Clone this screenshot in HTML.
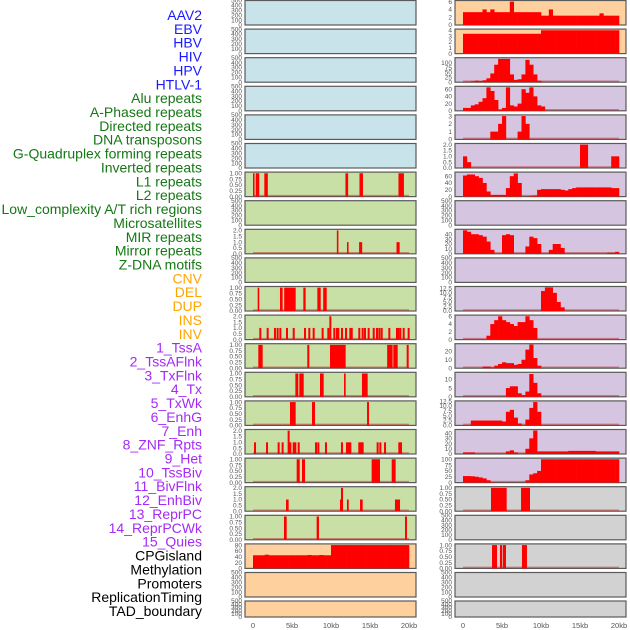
<!DOCTYPE html>
<html><head><meta charset="utf-8">
<style>
html,body{margin:0;padding:0;background:#fff;width:630px;height:630px;overflow:hidden}
svg{display:block}
text{font-family:"Liberation Sans",sans-serif}
</style></head>
<body>
<svg id="chart" width="630" height="630"></svg>
<script>
// ---- labels ----
const trackLabels=["AAV2","EBV","HBV","HIV","HPV","HTLV-1","Alu repeats","A-Phased repeats","Directed repeats","DNA transposons","G-Quadruplex forming repeats","Inverted repeats","L1 repeats","L2 repeats","Low_complexity A/T rich regions","Microsatellites","MIR repeats","Mirror repeats","Z-DNA motifs","CNV","DEL","DUP","INS","INV","1_TssA","2_TssAFlnk","3_TxFlnk","4_Tx","5_TxWk","6_EnhG","7_Enh","8_ZNF_Rpts","9_Het","10_TssBiv","11_BivFlnk","12_EnhBiv","13_ReprPC","14_ReprPCWk","15_Quies","CPGisland","Methylation","Promoters","ReplicationTiming","TAD_boundary"];
const labelGroups=[0,0,0,0,0,0,1,1,1,1,1,1,1,1,1,1,1,1,1,2,2,2,2,2,3,3,3,3,3,3,3,3,3,3,3,3,3,3,3,4,4,4,4,4];
const xTickLabels=["0","5kb","10kb","15kb","20kb"];
const xTickKb=[0,5,10,15,20];
// ---- left column data (intervals: [startKb,endKb,value]) ----
const leftL1=[[0,0.2,1],[0.35,0.8,1],[1.45,1.9,1],[11.85,12.2,1],[13.65,14.1,1],[18.65,19.35,1]];
const leftMIR=[[10.75,10.95,2],[12.05,12.25,1],[13.6,14.0,1],[18.4,18.8,1]];
const leftDEL=[[0.6,0.8,1],[3.46,3.8,1],[4.0,5.47,1],[6.45,6.75,1],[8.25,8.68,1],[9.0,9.45,1]];
const insPos=[0.81,1.75,2.69,3.03,3.38,4.23,5.09,6.54,7.09,7.65,8.8,9.53,9.79,10.3,10.64,10.81,11.28,11.8,12.35,12.53,13.5,13.93,14.23,14.7,15.35,15.77,16.07,16.37,17.35,18.33,18.5,18.76,19.19,19.83];
const insVal=[1,1,1,1,1,1,1,1,1,1,1,1,2,1,1,1,1,1,1,1,1,1,1,1,1,1,1,1,1,1,1,1,1,1];
const leftTssA=[[0.68,1.24,1],[6.96,7.22,1],[9.87,11.88,1],[17.2,17.9,1],[17.99,18.55,1],[19.7,19.96,1]];
const leftTxFlnk=[[5.43,5.81,1],[5.94,6.5,1],[8.59,9.06,1],[11.67,11.88,1],[13.97,14.7,1]];
const leftTxWk=[[4.74,5.47,1],[7.56,7.95,1],[14.62,14.87,1]];
const enhPos=[0.13,1.67,3.16,3.67,4.44,4.66,5.09,5.3,5.73,7.95,8.25,9.23,11.28,11.92,12.14,12.35,13.5,13.72,13.93,15.85,16.2,16.8,18.63,18.85];
const enhVal=[1,1,1,1,2,1,1,1,1,1,1,1,1,1,1,1,1,1,1,1,1,1,1,1];
const leftHet=[[5.6,5.99,1],[6.28,6.67,1],[15.21,16.28,1],[17.78,18.29,1]];
const leftBiv=[[4.23,4.57,1],[11.15,11.5,1],[11.28,11.54,2],[12.05,12.27,1],[13.72,14.06,1],[18.2,18.85,1]];
const leftRepr=[[3.97,4.32,1],[8.16,8.46,1],[19.49,19.74,1]];
const leftCpg=[45,45,45,47,45,45,45,45,45,45,45,45,45,45,46,45,45,46,45,45,80,80,80,80,80,80,80,80,80,80,80,80,80,80,80,80,80,80,80,80];
// ---- right column data (0.5kb bins from 0 to 20kb) ----
const rAAV2=[3.3,3.3,3.3,3.3,3.3,4,3.3,4,3.3,3.3,3.3,3.3,6,3.3,3.3,3.3,3.3,3.3,3.3,3.3,2.4,2.4,4,2.4,2.4,2.4,2.4,2.4,2.4,2.4,2.4,2.4,2.4,2.4,2.4,3,2.4,2.4,2.4,2.4];
const rEBV=[3.4,3.4,3.4,3.4,3.4,3.4,3.4,3.4,3.4,3.4,3.4,3.4,3.4,3.4,3.4,3.4,3.4,3.4,3.4,3.4,4,4,4,4,4,4,4,4,4,4,4,4,4,4,4,4,4,4,4,4];
const rHIV=[2,2,5,8,6,10,20,45,90,120,120,120,40,12,15,40,115,90,40,8,2,0,0,0,0,0,0,0,0,0,0,0,0,0,0,0,0,0,0,0];
const rAlu=[8,8,15,18,25,35,65,55,30,3,8,65,15,12,20,60,50,65,40,15,12,0,0,0,0,0,0,0,0,0,0,0,0,0,0,0,0,0,0,0];
const rDirected=[0,0,0,0,0,0,0,1,1,2,3,0,0,0,1,3,2,0,0,0,0,0,0,0,0,0,0,0,0,0,0,0,0,0,0,0,0,0,0,0];
const rGquad=[1,0.5,0,0,0,0,0,0,0,0,0,0,0,0,0,0,0,0,0,0,0,0,0,0,0,0,0,0,0,0,2,2,0,0,0,0,0,0,1,1];
const rL1=[62,65,65,60,55,40,15,5,5,5,5,25,60,68,40,0,0,2,3,20,22,22,22,22,22,20,18,22,25,27,27,27,27,27,27,27,27,27,25,25];
const rMIR=[48,45,40,40,38,35,25,8,0,0,38,40,38,0,0,0,15,35,32,20,0,0,8,20,20,12,0,0,0,0,0,0,0,0,0,0,0,2,2,4];
const rDEL=[0,0,0,0,0,0,0,0,0,0,0,0,0,0,0,0,0,0,0,0,11,13,13,10,5,2,0,0,0,0,0,0,0,0,0,0,0,0,0,0];
const rINS=[0,0,0,0,0,0,1,4,5,6,5,4.5,4,3.5,4.5,4.5,6,5,3,0,0,0,0,0,0,0,0,0,0,0,0,0,0,0,0,0,0,0,0,0];
const rTssA=[0,0,0,0,0,2,2,1,3,5,7,6,6,4,5,10,22,28,12,3,0,0,0,0,0,0,0,0,0,0,0,0,0,0,0,0,0,0,0,0];
const rTxFlnk=[0,0,0,0,0,0,0,0,0,0,0,5,6,6,2,1,3,13,8,2,0,0,0,0,0,0,0,0,0,0,0,0,0,0,0,0,0,0,0,0];
const rTxWk=[0,0,2.5,2.5,2.5,2.5,2.5,2.5,2.5,2.5,2,7,8,4,1,0,3,9,12,7,0,0,0,0,0,0,0,0,0,0,0,0,0,0,0,0,0,0,0,0];
const rEnh=[3,3,3,1,1,1,1,1,1,1,1,5,7,3,0,1,10,30,45,5,5,5,5,5,5,5,5,6,6,6,6,6,6,6,5,5,5,5,5,5];
const rHet=[28,28,27,25,22,18,10,2,0,0,0,0,0,0,0,0,10,35,40,50,100,100,100,100,100,100,100,100,100,100,100,100,100,100,100,100,100,100,100,100];
const rBiv=[[3.59,5.6,1],[7.44,8.59,1]];
const rCpg=[[3.72,4.36,1],[4.74,5.0,1],[5.09,5.51,1],[7.56,8.2,1]];
// ---- tick label arrays ----
const tEmpty=[0,100,200,300,400,500];
const tUnit=["0.00","0.25","0.50","0.75","1.00"];
const tTwo=["0.0","0.5","1.0","1.5","2.0"];

const svg=document.getElementById('chart');
const NS='http://www.w3.org/2000/svg';
const KB=7.8;
function xL(kb){return 253+kb*KB;}
function xR(kb){return 463+kb*KB;}
function mk(tag,attrs,parent){const e=document.createElementNS(NS,tag);for(const k in attrs)e.setAttribute(k,attrs[k]);(parent||svg).appendChild(e);return e;}

const colors={0:'#1a1aff',1:'#147814',2:'#ffa500',3:'#a52af5',4:'#000000'};
trackLabels.forEach((t,i)=>{
  const el=mk('text',{x:202,y:15+i*13.86+5,'text-anchor':'end','font-size':'14',fill:colors[labelGroups[i]]});
  el.textContent=t;
  
  
});

const BG={blue:'#c8e3ea',green:'#c8e0a5',peach:'#fdd09e',lav:'#d6c5e0',gray:'#d2d2d2'};
function rowGeom(i){ if(i===21) return {top:601,h:16}; return {top:i*28.6+0.5,h:24.5}; }

function drawPanel(side,i,bg,spec){
  const g=rowGeom(i);
  const px=side==='L'?245:455, pw=171;
  const xs=side==='L'?xL:xR;
  const grp=mk('g',{});
  
  
  mk('rect',{x:px,y:g.top,width:pw,height:g.h,fill:bg,stroke:'#5a5a5a','stroke-width':1.2},grp);
  const ymax=spec.ymax, bottom=g.top+g.h;
  const ys=v=>bottom-(v/ymax)*g.h;
  // ticks
  const ticks=spec.ticks, labs=spec.labels||spec.ticks.map(String);
  ticks.forEach((tv,k)=>{
    const tl=mk('text',{x:px-3,y:ys(+tv)+2.2,'text-anchor':'end','font-size':'6.5',fill:'#555'},grp);
    tl.textContent=labs[k];
    
    
  });
  if(spec.empty) return;
  // baseline
  const bl=mk('line',{x1:xs(0),x2:xs(20),y1:bottom-1,y2:bottom-1,stroke:'rgba(190,40,40,0.5)','stroke-width':1.5},grp);
  
  
  if(spec.bins){
    spec.bins.forEach((v,b)=>{
      if(v<=0) return;
      const r=mk('rect',{x:xs(b*0.5),y:ys(v),width:0.5*KB+0.3,height:bottom-ys(v),fill:'#ff0000'},grp);
      
      
    });
  }
  if(spec.intervals){
    spec.intervals.forEach(iv=>{
      const r=mk('rect',{x:xs(iv[0]),y:ys(iv[2]),width:Math.max(1.5,(iv[1]-iv[0])*KB),height:bottom-ys(iv[2]),fill:'#ff0000'},grp);
      
      
    });
  }
  if(spec.pos){
    spec.pos.forEach((p,k)=>{
      const v=spec.vals[k];
      const r=mk('rect',{x:xs(p),y:ys(v),width:2,height:bottom-ys(v),fill:'#ff0000'},grp);
      
      
    });
  }
}
const E={empty:true,ticks:tEmpty,ymax:500};
const U=(iv)=>({intervals:iv,ticks:[0,0.25,0.5,0.75,1],labels:tUnit,ymax:1.05});
const leftSpecs=[E,E,E,E,E,E,U(leftL1),E,
 {intervals:leftMIR,ticks:[0,0.5,1,1.5,2],labels:tTwo,ymax:2.1},E,U(leftDEL),
 {pos:insPos,vals:insVal,ticks:[0,0.5,1,1.5,2],labels:tTwo,ymax:2.1},
 U(leftTssA),U(leftTxFlnk),U(leftTxWk),
 {pos:enhPos,vals:enhVal,ticks:[0,0.5,1,1.5,2],labels:tTwo,ymax:2.1},
 U(leftHet),{intervals:leftBiv,ticks:[0,0.5,1,1.5,2],labels:tTwo,ymax:2.1},U(leftRepr),
 {bins:leftCpg,ticks:[0,20,40,60,80],ymax:84},E,E];
const leftBg=i=>i<6?BG.blue:(i<19?BG.green:BG.peach);
const rightSpecs=[
 {bins:rAAV2,ticks:[0,2,4,6],ymax:6.3},
 {bins:rEBV,ticks:[0,1,2,3,4],ymax:4.2},
 {bins:rHIV,ticks:[0,25,50,75,100],ymax:126},
 {bins:rAlu,ticks:[0,20,40,60],ymax:68},
 {bins:rDirected,ticks:[0,1,2,3],ymax:3.15},
 {bins:rGquad,ticks:[0,0.5,1,1.5,2],labels:tTwo,ymax:2.1},
 {bins:rL1,ticks:[0,20,40,60],ymax:72},E,
 {bins:rMIR,ticks:[0,10,20,30,40],ymax:50},E,
 {bins:rDEL,ticks:[0,2.5,5,7.5,10,12.5],labels:["0.0","2.5","5.0","7.5","10.0","12.5"],ymax:13.5},
 {bins:rINS,ticks:[0,2,4,6],ymax:6.3},
 {bins:rTssA,ticks:[0,10,20],ymax:29},
 {bins:rTxFlnk,ticks:[0,5,10],ymax:14},
 {bins:rTxWk,ticks:[0,2.5,5,7.5,10,12.5],labels:["0.0","2.5","5.0","7.5","10.0","12.5"],ymax:12.6},
 {bins:rEnh,ticks:[0,10,20,30,40],ymax:47},
 {bins:rHet,ticks:[0,25,50,75,100],ymax:105},
 U(rBiv),E,U(rCpg),E,E];
const rightBg=i=>i<2?BG.peach:(i<17?BG.lav:BG.gray);
for(let i=0;i<22;i++){drawPanel('L',i,leftBg(i),leftSpecs[i]);drawPanel('R',i,rightBg(i),rightSpecs[i]);}
xTickKb.forEach((kb,k)=>{
  const a=mk('text',{x:xL(kb),y:628,'text-anchor':'middle','font-size':'7.5',fill:'#555'});
  a.textContent=xTickLabels[k];
  
  
  const b=mk('text',{x:xR(kb),y:628,'text-anchor':'middle','font-size':'7.5',fill:'#555'});
  b.textContent=xTickLabels[k];
  
  
});
</script>
</body></html>
